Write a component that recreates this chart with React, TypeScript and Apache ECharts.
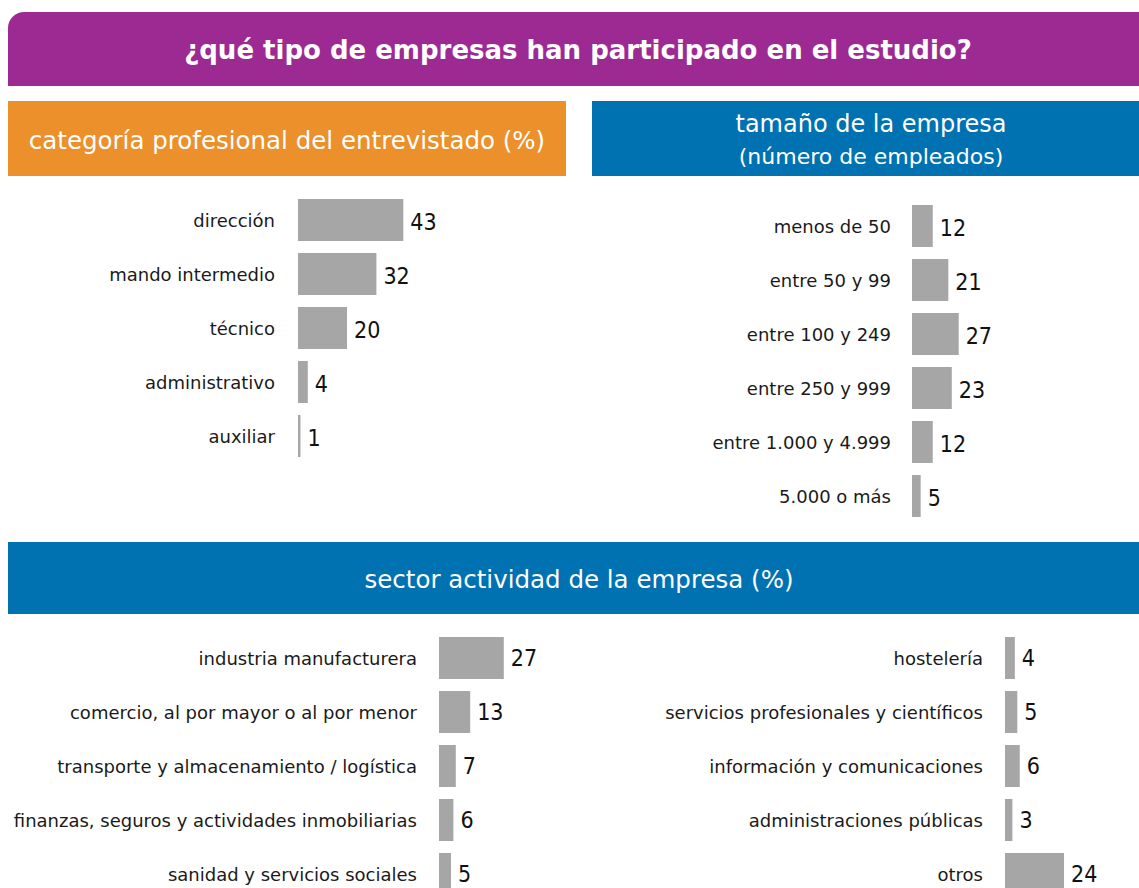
import React, { useEffect, useRef } from "react";
import * as echarts from "echarts";

const FONT = "'DejaVu Sans', 'Noto Sans', sans-serif";
const FONT_NUM = "'DejaVu Sans Condensed', 'DejaVu Sans', sans-serif";

const catProfLabels = ["dirección", "mando intermedio", "técnico", "administrativo", "auxiliar"];
const catProfValues = [43, 32, 20, 4, 1];

const sizeLabels = ["menos de 50", "entre 50 y 99", "entre 100 y 249", "entre 250 y 999", "entre 1.000 y 4.999", "5.000 o más"];
const sizeValues = [12, 21, 27, 23, 12, 5];

const sectorLeftLabels = [
  "industria manufacturera",
  "comercio, al por mayor o al por menor",
  "transporte y almacenamiento / logística",
  "finanzas, seguros y actividades inmobiliarias",
  "sanidad y servicios sociales",
];
const sectorLeftValues = [27, 13, 7, 6, 5];

const sectorRightLabels = [
  "hostelería",
  "servicios profesionales y científicos",
  "información y comunicaciones",
  "administraciones públicas",
  "otros",
];
const sectorRightValues = [4, 5, 6, 3, 24];

const BAR = "#A6A6A6";

export default function App() {
  const ref = useRef<HTMLDivElement>(null);
  useEffect(() => {
    if (!ref.current) return;
    const chart = echarts.init(ref.current, null, { renderer: "svg" });

    const grids = [
      { left: 298, top: 193, width: 245, height: 270 },
      { left: 912, top: 199, width: 173, height: 324 },
      { left: 439, top: 631, width: 240, height: 270 },
      { left: 1005, top: 631, width: 123, height: 270 },
    ];
    const maxes = [100, 100, 100, 50];
    const cats = [catProfLabels, sizeLabels, sectorLeftLabels, sectorRightLabels];
    const vals = [catProfValues, sizeValues, sectorLeftValues, sectorRightValues];
    const margins = [23, 21, 22, 22];
    const labelOffsets = [2, 2, 0, 0];

    const option: any = {
      animation: false,
      backgroundColor: "#ffffff",
      grid: grids.map((g) => ({ ...g, containLabel: false, outerBoundsMode: "none" })),
      xAxis: grids.map((_, i) => ({
        type: "value",
        gridIndex: i,
        min: 0,
        max: maxes[i],
        show: false,
      })),
      yAxis: cats.map((c, i) => ({
        type: "category",
        gridIndex: i,
        data: c,
        inverse: true,
        axisLine: { show: false },
        axisTick: { show: false },
        splitLine: { show: false },
        axisLabel: {
          margin: margins[i],
          fontFamily: FONT,
          fontSize: 18,
          color: "#1a1a1a",
        },
      })),
      series: vals.map((v, i) => ({
        type: "bar",
        xAxisIndex: i,
        yAxisIndex: i,
        data: v,
        barWidth: 42,
        itemStyle: { color: BAR },
        label: {
          show: true,
          position: "right",
          distance: 7,
          fontFamily: FONT_NUM,
          fontSize: 23,
          color: "#111111",
          offset: [0, labelOffsets[i]],
        },
      })),
      graphic: [
        {
          type: "rect",
          shape: { x: 8, y: 12, width: 1140, height: 74, r: [16, 0, 0, 0] },
          style: { fill: "#9D2A93" },
        },
        {
          type: "text",
          x: 578,
          y: 50,
          style: {
            text: "¿qué tipo de empresas han participado en el estudio?",
            fill: "#ffffff",
            font: `bold 26px ${FONT}`,
            align: "center",
            verticalAlign: "middle",
          },
        },
        {
          type: "rect",
          shape: { x: 8, y: 101, width: 558, height: 75 },
          style: { fill: "#EB902B" },
        },
        {
          type: "text",
          x: 287,
          y: 140,
          style: {
            text: "categoría profesional del entrevistado (%)",
            fill: "#ffffff",
            font: `24.5px ${FONT}`,
            align: "center",
            verticalAlign: "middle",
          },
        },
        {
          type: "rect",
          shape: { x: 592, y: 101, width: 548, height: 75 },
          style: { fill: "#0071B1" },
        },
        {
          type: "text",
          x: 871,
          y: 124,
          style: {
            text: "tamaño de la empresa",
            fill: "#ffffff",
            font: `24px ${FONT}`,
            align: "center",
            verticalAlign: "middle",
          },
        },
        {
          type: "text",
          x: 871,
          y: 156,
          style: {
            text: "(número de empleados)",
            fill: "#ffffff",
            font: `22px ${FONT}`,
            align: "center",
            verticalAlign: "middle",
          },
        },
        {
          type: "rect",
          shape: { x: 8, y: 542, width: 1140, height: 72 },
          style: { fill: "#0071B1" },
        },
        {
          type: "text",
          x: 579,
          y: 579,
          style: {
            text: "sector actividad de la empresa (%)",
            fill: "#ffffff",
            font: `24.5px ${FONT}`,
            align: "center",
            verticalAlign: "middle",
          },
        },
      ],
    };
    chart.setOption(option);
    return () => chart.dispose();
  }, []);
  return (
    <div
      ref={ref}
      style={{ position: "fixed", left: 0, top: 0, width: 1139, height: 888 }}
    />
  );
}
